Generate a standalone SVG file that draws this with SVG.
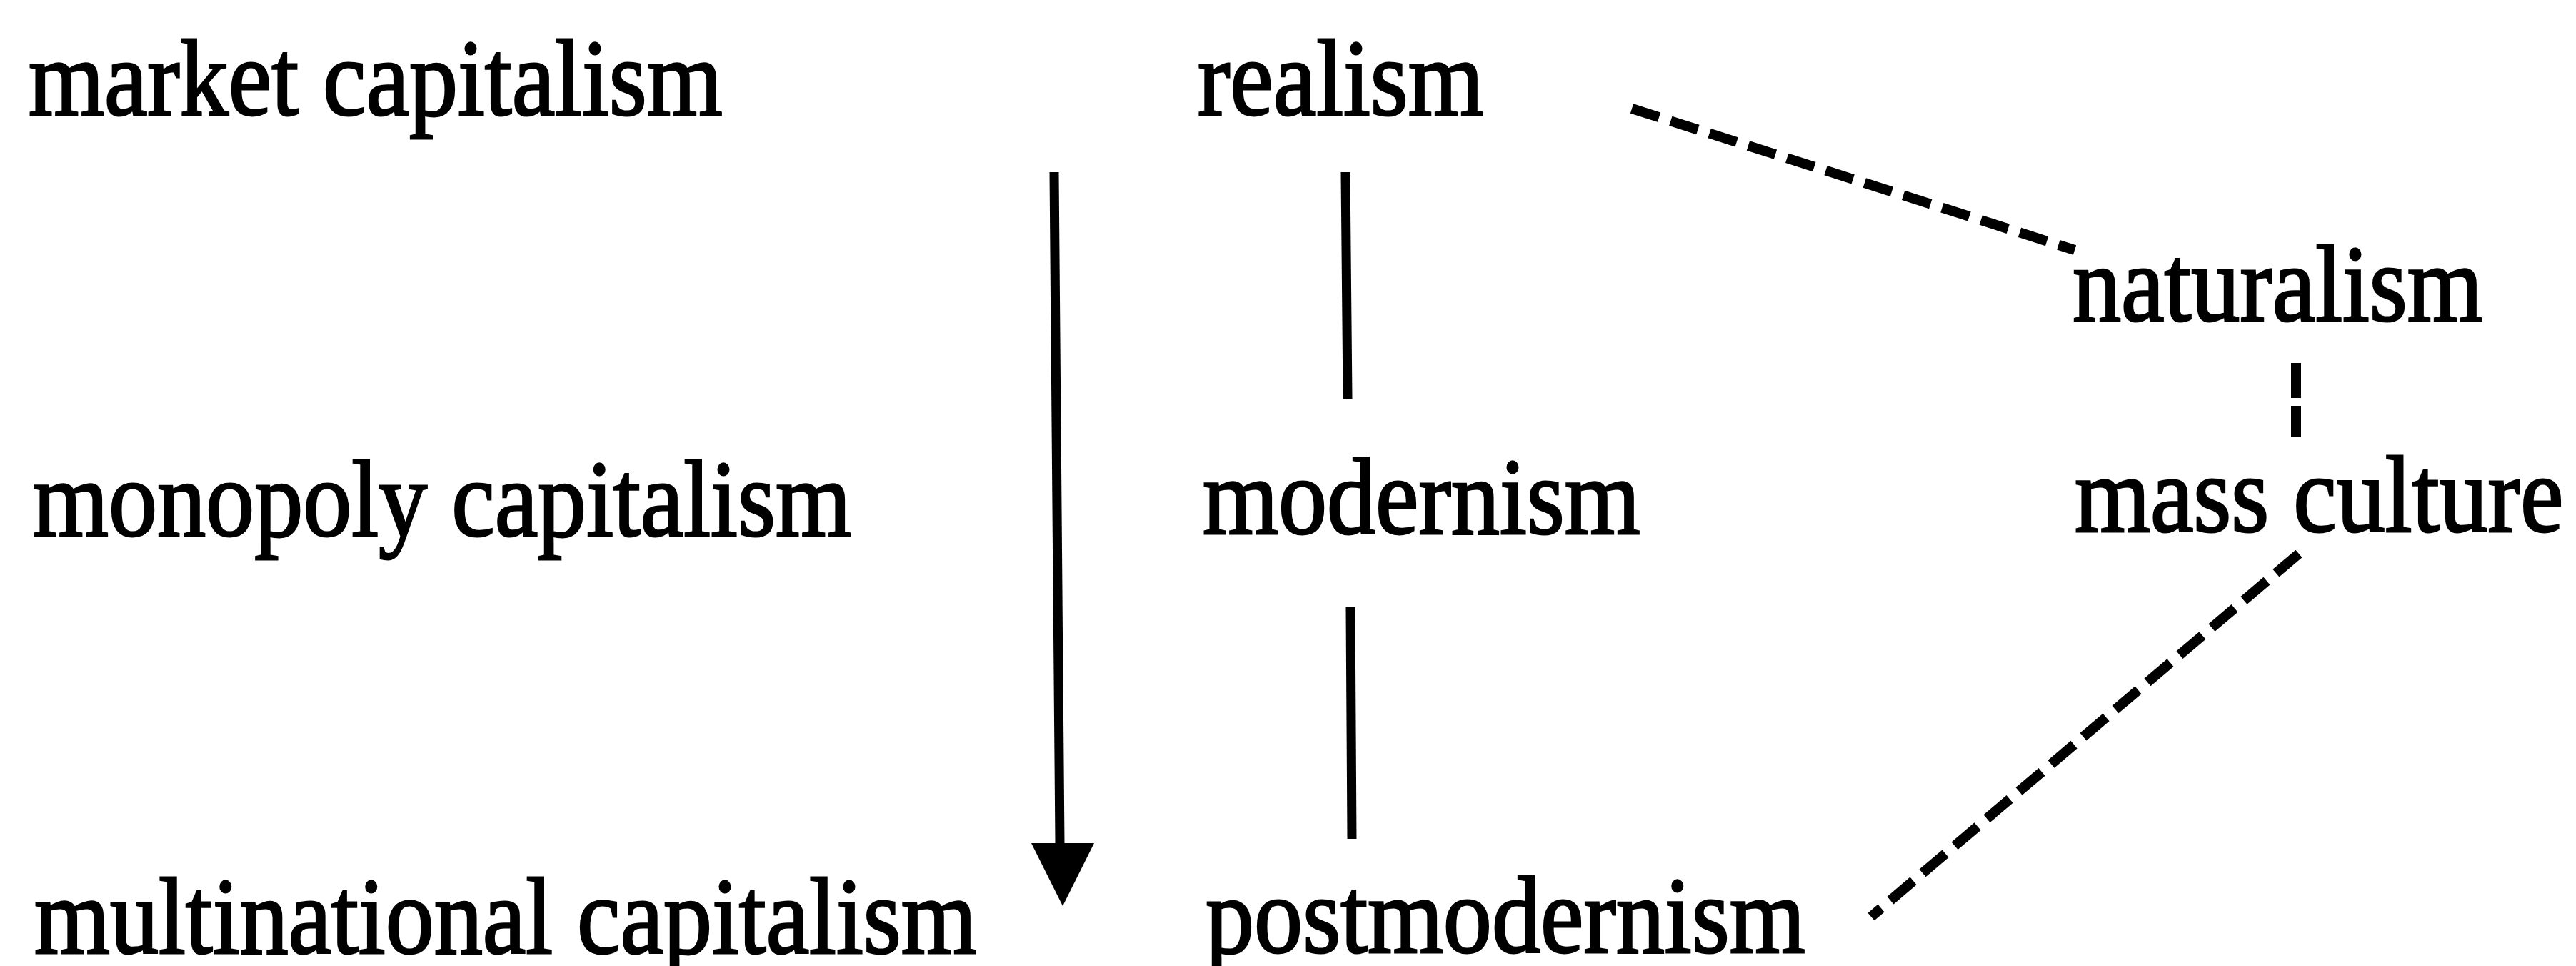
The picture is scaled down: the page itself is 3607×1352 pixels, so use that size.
<svg xmlns="http://www.w3.org/2000/svg" width="3607" height="1352" viewBox="0 0 3607 1352">
<style>
.lbl{font-family:"Liberation Serif","Times New Roman",serif;font-size:153px;fill:#000;stroke:#000;stroke-width:3}
.solid{stroke:#000;stroke-width:13;fill:none}
.dash{stroke:#000;stroke-width:14;fill:none;stroke-dasharray:40 17}
</style>
<rect width="3607" height="1352" fill="#fff"/>
<g id="connectors">
<line class="solid" x1="1476" y1="241" x2="1484" y2="1182"/>
<polygon points="1444,1180 1532,1180 1488,1268" fill="#000"/>
<line class="solid" x1="1884" y1="241" x2="1887" y2="558"/>
<line class="solid" x1="1891" y1="850" x2="1893" y2="1174"/>
<line class="dash" x1="2285" y1="152" x2="2905" y2="350"/>
<line class="dash" x1="3215" y1="508" x2="3215" y2="612" style="stroke-dasharray:49 11"/>
<line class="dash" x1="3219" y1="775" x2="2620" y2="1283" style="stroke-dasharray:42 17"/>
</g>
<g id="market-capitalism"><text class="lbl" transform="translate(40,161) scale(0.89,1)">market capitalism</text></g>
<g id="realism"><text class="lbl" transform="translate(1677,161) scale(0.89,1)">realism</text></g>
<g id="naturalism"><text class="lbl" transform="translate(2902,449) scale(0.89,1)">naturalism</text></g>
<g id="monopoly-capitalism"><text class="lbl" transform="translate(46,750) scale(0.89,1)">monopoly capitalism</text></g>
<g id="modernism"><text class="lbl" transform="translate(1684,747) scale(0.89,1)">modernism</text></g>
<g id="mass-culture"><text class="lbl" transform="translate(2905,744) scale(0.89,1)">mass culture</text></g>
<g id="multinational-capitalism"><text class="lbl" transform="translate(48,1334) scale(0.89,1)">multinational capitalism</text></g>
<g id="postmodernism"><text class="lbl" transform="translate(1688,1333) scale(0.89,1)">postmodernism</text></g>
</svg>
